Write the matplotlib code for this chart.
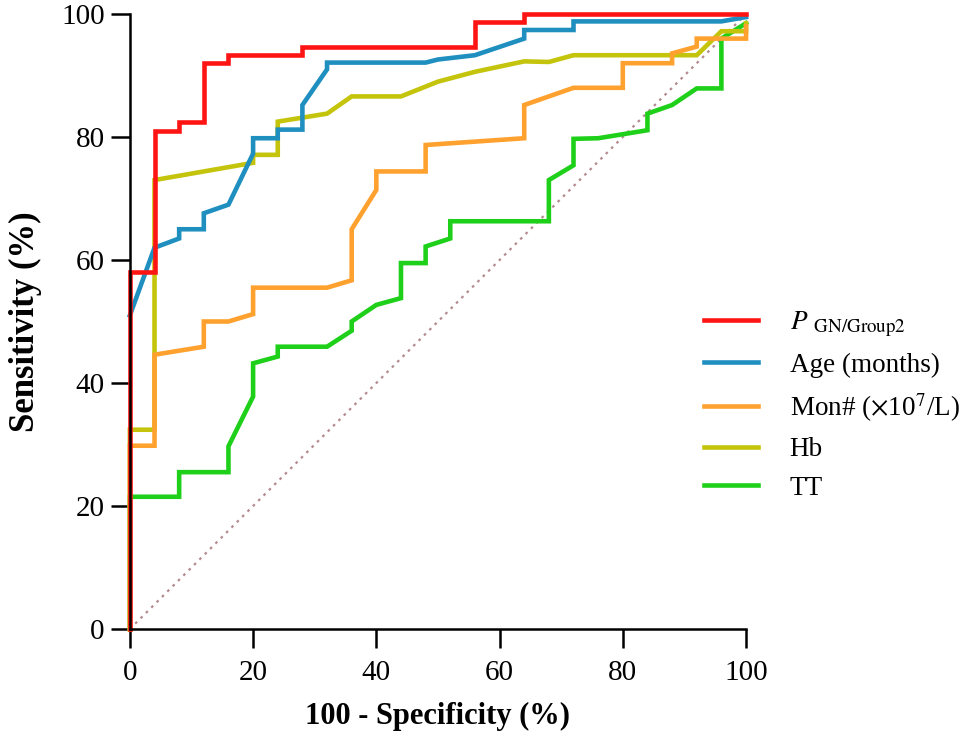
import numpy as np
import matplotlib
matplotlib.use('Agg')
import matplotlib.pyplot as plt

plt.rcParams['font.family'] = 'serif'
plt.rcParams['font.serif'] = ['Liberation Serif', 'DejaVu Serif']
plt.rcParams['mathtext.fontset'] = 'stix'

# ROC curves (x = 100 - specificity, y = sensitivity, %)
p_x = [0, 0, 4, 4, 8, 8, 12, 12, 16, 16, 28, 28, 56, 56, 64, 64, 100]
p_y = [0, 58, 58, 81, 81, 82.5, 82.5, 92, 92, 93.3, 93.3, 94.7, 94.7, 98.7, 98.7, 100, 100]

age_x = [0, 4, 8, 8, 12, 12, 16, 20, 20, 24, 24, 28, 28, 32, 32, 48, 50, 56, 64, 64, 72, 72, 96, 100]
age_y = [51, 62, 63.5, 65, 65, 67.6, 69, 77.3, 79.8, 79.8, 81.2, 81.2, 85.2, 91, 92.1, 92.1, 92.6, 93.3, 96, 97.4, 97.4, 98.8, 98.8, 99.5]

mon_x = [0, 0, 4, 4, 12, 12, 16, 20, 20, 32, 36, 36, 40, 40, 48, 48, 64, 64, 72, 80, 80, 88, 88, 92, 92, 100, 100]
mon_y = [0, 29.8, 29.8, 44.6, 45.9, 50, 50, 51.2, 55.5, 55.5, 56.7, 65, 71.4, 74.4, 74.4, 78.7, 79.8, 85.2, 88, 88, 92, 92, 93.6, 94.7, 96, 96, 98]

hb_x = [0, 0, 4, 4, 20, 20, 24, 24, 32, 36, 44, 50, 56, 64, 68, 72, 92, 96, 100, 100]
hb_y = [0, 32.4, 32.4, 73, 75.8, 77.1, 77.1, 82.5, 83.8, 86.6, 86.6, 89, 90.6, 92.3, 92.2, 93.3, 93.3, 97.2, 97.2, 98.5]

tt_x = [0, 0, 8, 8, 16, 16, 20, 20, 24, 24, 32, 36, 36, 40, 44, 44, 48, 48, 52, 52, 68, 68, 72, 72, 76, 84, 84, 88, 92, 96, 96, 100]
tt_y = [0, 21.5, 21.5, 25.5, 25.5, 29.7, 37.8, 43.2, 44.3, 45.9, 45.9, 48.5, 50, 52.7, 53.8, 59.5, 59.5, 62.2, 63.5, 66.3, 66.3, 73, 75.4, 79.7, 79.8, 81.1, 83.8, 85.2, 87.9, 87.9, 96, 98.5]

labels = [r'$P$ $_{\mathrm{GN/Group2}}$', 'Age (months)', r'Mon# ($\times$10$^7$/L)', 'Hb', 'TT']
colors = ['#ff1414', '#1f8fc0', '#ffa12e', '#c4c40c', '#1fd01a']
ticks = [0, 20, 40, 60, 80, 100]

fig = plt.figure(figsize=(9.62, 7.53), dpi=100)
ax = fig.add_axes([0.135, 0.1647, 0.6405, 0.8167])

# reference line
ax.plot([0, 100], [0, 100], color='#b48a8e', linewidth=1.6, linestyle=(0, (1.2, 2.2)), zorder=1)

curves = [(tt_x, tt_y), (hb_x, hb_y), (mon_x, mon_y), (age_x, age_y), (p_x, p_y)]
handles = []
for (x, y), c, lab in zip(curves, colors[::-1], labels[::-1]):
    h, = ax.plot(x, y, color=c, linewidth=3.3, label=lab, clip_on=False, solid_joinstyle='miter')
    handles.append(h)
handles = handles[::-1]

ax.set_xlim(0, 100)
ax.set_ylim(0, 100)
ax.set_xticks(ticks)
ax.set_yticks(ticks)
ax.tick_params(direction='out', length=14, width=1.8, labelsize=21, colors='black')
ax.tick_params(axis='x', pad=8)
ax.tick_params(axis='y', pad=4)
for s in ['top', 'right']:
    ax.spines[s].set_visible(False)
for s in ['left', 'bottom']:
    ax.spines[s].set_linewidth(1.8)

ax.set_xlabel('100 - Specificity (%)', fontsize=22, fontweight='bold', labelpad=12)
ax.set_ylabel('Sensitivity (%)', fontsize=25, fontweight='bold', labelpad=14)

leg = fig.legend(handles=handles, labels=labels, loc='upper left',
                 bbox_to_anchor=(0.718, 0.607), frameon=False, fontsize=19.5,
                 handlelength=2.0, handletextpad=1.15, labelspacing=0.5, borderpad=0)

fig.savefig('out.png', dpi=100)
